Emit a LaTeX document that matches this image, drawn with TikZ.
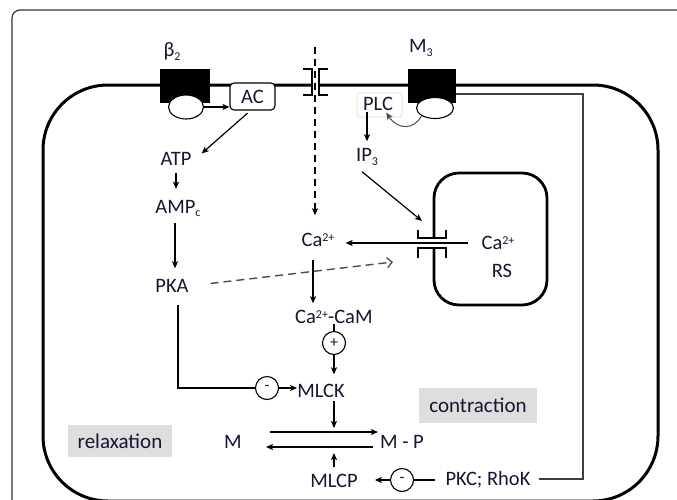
\documentclass[tikz,border=0pt]{standalone}
\usepackage{fontspec}
\setmainfont{Carlito}
\usetikzlibrary{arrows.meta,shapes.geometric,calc}
\definecolor{txtc}{RGB}{22,22,50}
\definecolor{labfill}{RGB}{222,222,222}
\definecolor{plcb}{RGB}{236,228,206}
\newcommand\supch[1]{\raisebox{5.5pt}{\fontsize{12}{13}\selectfont #1}}
\newcommand\subch[1]{\raisebox{-3.5pt}{\fontsize{12}{13}\selectfont #1}}
\begin{document}
\begin{tikzpicture}[x=1pt,y=-1pt,
  lbl/.style={font=\fontsize{20.5}{24}\selectfont, text=txtc, inner sep=0pt, text height=13pt, text depth=0pt},
  arr/.style={draw=black, line width=1.2pt, -{Stealth[length=7pt,width=6pt,inset=1.5pt]}},
  ln/.style={draw=black, line width=1.2pt},
  mem/.style={draw=black, line width=3pt},
  sgn/.style={circle, draw, line width=1.1pt, minimum size=23pt, inner sep=0pt, font=\fontsize{16}{18}\selectfont, text=txtc},
  tag/.style={fill=labfill, font=\fontsize{21}{24}\selectfont, text=txtc, inner sep=0pt},
  chan/.style={draw=black, line width=1.3pt},
  dsh/.style={draw=black!70, line width=1.4pt, dash pattern=on 8pt off 5pt, -{Straight Barb[length=5pt,width=10pt,line width=1.3pt]}}]

\useasboundingbox (0,0) rectangle (677,499);
\clip (0,0) rectangle (677,499);
\fill[white] (0,0) rectangle (677,499);

% outer frame
\draw[line width=1.2pt, draw=black!80, rounded corners=8pt] (690,10) -- (12,10) -- (12,520);

% cell membrane
\draw[mem, rounded corners=65pt] (312,85) -- (43,85) -- (43,501) -- (658,501) -- (658,85) -- (319,85);

% reticulum
\draw[mem, line width=2.8pt, rounded corners=25pt] (434,238) -- (434,173) -- (547,173) -- (547,305) -- (434,305) -- (434,248);
\draw[chan] (418,230) -- (418,238) -- (446,238) -- (446,230);
\draw[chan] (418,258) -- (418,248) -- (446,248) -- (446,258);

% membrane channel
\draw[chan] (303,69) -- (312,69) -- (312,95) -- (303,95);
\draw[chan] (328,69) -- (319,69) -- (319,95) -- (328,95);

% receptors
\node[fill=black, minimum width=50pt, minimum height=34pt, inner sep=0pt] (bblk) at (185,86) {};
\node[ellipse, draw, line width=1.1pt, fill=white, minimum width=35pt, minimum height=24pt, inner sep=0pt] (bell) at (186,107) {};
\node[fill=black, minimum width=48pt, minimum height=34pt, inner sep=0pt] (mblk) at (432,86) {};
\node[ellipse, draw, line width=1.1pt, fill=white, minimum width=37pt, minimum height=21pt, inner sep=0pt] (mell) at (435,108) {};

% boxes
\node[lbl, draw=black, line width=1.1pt, fill=white, rounded corners=4pt, minimum width=45pt, minimum height=27pt] (ac) at (252.5,96.5) {AC};
\node[draw=plcb, line width=1pt, rounded corners=3pt, minimum width=45pt, minimum height=24pt, inner sep=0pt] (plcbox) at (379.5,105) {};
\node[lbl] (plc) at (378,104) {PLC};

% labels
\node[lbl] (beta) at (172,50) {β\subch{2}};
\node[lbl] (m3) at (421,46) {M\subch{3}};
\node[lbl] (atp) at (176,158.5) {ATP};
\node[lbl] (amp) at (178,206.5) {AMP\subch{c}};
\node[lbl] (pka) at (172,286) {PKA};
\node[lbl] (ip3) at (367,155) {IP\subch{3}};
\node[lbl] (ca) at (318,240) {Ca\supch{2+}};
\node[lbl] (cars) at (498,243) {Ca\supch{2+}};
\node[lbl] (rs) at (502,271) {RS};
\node[lbl, anchor=west] (cacam) at (295,317) {Ca\supch{2+}-CaM};
\node[sgn] (plus) at (334,343) {+};
\node[lbl] (mlck) at (321,391) {MLCK};
\node[sgn] (minus1) at (267,388) {-};
\node[lbl] (m) at (233,442) {M};
\node[lbl] (mp) at (402,442) {M - P};
\node[lbl] (mlcp) at (334,481) {MLCP};
\node[sgn] (minus2) at (402,480) {-};
\node[lbl] (pkc) at (488,479) {PKC; RhoK};
\node[tag, minimum width=118pt, minimum height=35pt] (contr) at (478,405.5) {contraction};
\node[tag, minimum width=104pt, minimum height=32pt] (relax) at (120,441) {relaxation};

% coordinates
\coordinate (catop) at (315,47);
\coordinate (chin) at (422,221);
\coordinate (rsin) at (393,262);
\coordinate (rtop) at (334,428);
\coordinate (rbot) at (334,453);
\coordinate (rc) at (583,94);

% connectors
\draw[arr] (bell.east) -- (bell.east -| ac.west);
\draw[arr, shorten <=4pt] ([xshift=-2pt]ac.south) -- ($(atp.east)+(10,-5)$);
\draw[arr, shorten <=8pt, shorten >=11pt] (atp.south) -- (atp.south |- amp.north);
\draw[arr, shorten <=10pt, shorten >=11pt] ([xshift=-3pt]amp.south) -- ([xshift=3pt]pka.north);
\draw[ln, shorten <=12pt] ([xshift=6pt]pka.south) |- (minus1.west);
\draw[arr] (minus1.east) -- (minus1.east -| mlck.west);
\draw[ln] (plus.north) -- (plus.north |- cacam.south);
\draw[arr, shorten >=10pt] (plus.south) -- (plus.south |- mlck.north);
\draw[arr, shorten <=3pt] (mlck.south -| rtop) -- (rtop);
\draw[arr, shorten <=28pt, shorten >=2pt] ([yshift=10pt]m.east) -- ([yshift=10pt]mp.west);
\draw[arr, shorten <=7pt, shorten >=24pt] ([yshift=-5pt]mp.west) -- ([yshift=-5pt]m.east);
\draw[arr, shorten <=7pt] (mlcp.north) -- (rbot);
\draw[arr, shorten >=17pt] (minus2.west) -- (minus2.west -| mlcp.east);
\draw[ln, shorten >=10pt] (minus2.east) -- (minus2.east -| pkc.west);
\draw[ln, draw=black!75, shorten <=8pt] (pkc.east) -| (rc) -- (rc -| mblk.east);
\draw[arr, line width=1pt, draw=black!70] (mell.south west) .. controls (414,130) and (398,130) .. ($(plc.south east)+(-7,2)$);
\draw[arr, shorten <=1pt, shorten >=7pt] (ip3.north |- plc.south) -- (ip3.north);
\draw[arr] ($(ip3.south)+(-5,10)$) -- (chin);
\draw[arr, shorten <=13pt, shorten >=11pt] (cars.west) -- (cars.west -| ca.east);
\draw[arr, shorten <=13pt, shorten >=7pt] ([xshift=-5pt]ca.south) -- ([xshift=-5pt]ca.south |- cacam.north);
\draw[dsh, shorten <=22pt] (pka.east) -- (rsin);
\draw[arr, dash pattern=on 7pt off 5pt, shorten >=18pt] (catop) -- (ca.north -| catop);

\end{tikzpicture}
\end{document}
